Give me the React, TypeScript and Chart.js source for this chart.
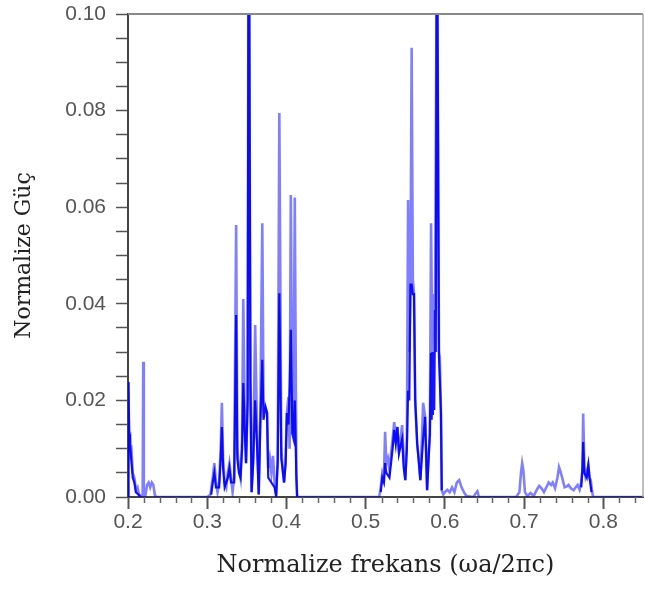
import React, { useEffect, useRef } from "react";
import { Chart, registerables } from "chart.js";

Chart.register(...registerables);

// Axis ranges and ticks
const X_MIN = 0.2;
const X_MAX = 0.85;
const Y_MIN = 0;
const Y_MAX = 0.1;
const X_MAJOR_STEP = 0.1;
const X_MINOR_STEP = 0.02;
const Y_MINOR_STEP = 0.005;
const Y_MAJOR_STEP = 0.02;

const X_TITLE = "Normalize frekans (ωa/2πc)";
const Y_TITLE = "Normalize Güç";

// Full (light, semi-transparent) spectrum trace
const lightFreq = [
  0.2, 0.2005, 0.2015, 0.2025, 0.2035, 0.2045, 0.206, 0.208, 0.21, 0.212, 0.214, 0.2165, 0.2185, 0.2192, 0.22,
  0.222, 0.224, 0.226, 0.228, 0.23, 0.232, 0.234, 0.236, 0.3,
  0.304, 0.307, 0.309, 0.311, 0.313, 0.315, 0.317, 0.3185, 0.32, 0.322, 0.324, 0.326, 0.328, 0.33, 0.332, 0.334,
  0.3365, 0.338, 0.34, 0.342, 0.344, 0.3455, 0.347, 0.349, 0.351, 0.352, 0.353, 0.3545, 0.356, 0.358, 0.3605,
  0.363, 0.365, 0.367, 0.3695, 0.371, 0.3735, 0.3755, 0.377, 0.379, 0.381, 0.383, 0.385, 0.387, 0.389, 0.391,
  0.3935, 0.395, 0.397, 0.399, 0.4005, 0.4025, 0.404, 0.4055, 0.4075, 0.409, 0.4105, 0.4125, 0.4135, 0.517,
  0.519, 0.521, 0.523, 0.5245, 0.526, 0.528, 0.53, 0.532, 0.534, 0.536, 0.538, 0.54, 0.542, 0.544, 0.546, 0.548,
  0.55, 0.552, 0.5535, 0.555, 0.5565, 0.558, 0.5595, 0.561, 0.5625, 0.565, 0.567, 0.569, 0.571, 0.5725, 0.575,
  0.5775, 0.579, 0.581, 0.5825, 0.584, 0.586, 0.5875, 0.5895, 0.5905, 0.5925, 0.5935, 0.595, 0.596, 0.598, 0.6,
  0.603, 0.606, 0.609, 0.612, 0.615, 0.618, 0.621, 0.624, 0.627, 0.636, 0.639, 0.641, 0.643, 0.69,
  0.694, 0.696, 0.6975, 0.699, 0.701, 0.704, 0.708, 0.712, 0.716, 0.719, 0.722, 0.725, 0.728, 0.731, 0.734,
  0.736, 0.739, 0.742, 0.744, 0.746, 0.748, 0.751, 0.754, 0.756, 0.759, 0.7625, 0.765, 0.7675, 0.77, 0.772,
  0.7735, 0.7745, 0.776, 0.7775, 0.779, 0.781, 0.7825, 0.784, 0.7855, 0.787, 0.85,
];
const lightPower = [
  0, 0.0238, 0.012, 0.0135, 0.009, 0.0095, 0.005, 0.004, 0.0015, 0.002, 0.0005, 0.0002, 0, 0.028, 0,
  0.0003, 0.0025, 0.003, 0.002, 0.003, 0.0025, 0.0003, 0, 0,
  0.0005, 0.004, 0.007, 0.003, 0.001, 0.003, 0.01, 0.0195, 0.008, 0.003, 0.002, 0.005, 0.007, 0.004, 0.001, 0.004,
  0.0563, 0.01, 0.006, 0.004, 0.012, 0.041, 0.02, 0.007, 0.02, 0.105, 0.105, 0.024, 0.001, 0.008, 0.0356,
  0.012, 0.0005, 0.017, 0.0567, 0.02, 0.0186, 0.0174, 0.006, 0.008, 0.005, 0.0085, 0.003, 0.0002, 0.0076, 0.0795,
  0.01, 0.006, 0.003, 0.008, 0.0174, 0.0207, 0.01, 0.0625, 0.013, 0.015, 0.062, 0.005, 0, 0,
  0.002, 0.005, 0.004, 0.0135, 0.007, 0.008, 0.0056, 0.009, 0.012, 0.0155, 0.012, 0.0145, 0.0097, 0.012, 0.0149, 0.008,
  0.0035, 0.012, 0.0615, 0.03, 0.044, 0.093, 0.045, 0.042, 0.02, 0.011, 0.008, 0.0035, 0.012, 0.0195, 0.0166,
  0.0014, 0.008, 0.013, 0.0567, 0.03, 0.042, 0.0387, 0.105, 0.105, 0.03, 0.029, 0.0174, 0.0014, 0.0005, 0.001,
  0.0015, 0.001, 0.002, 0.001, 0.003, 0.0035, 0.002, 0.001, 0.0002, 0, 0.0008, 0.0012, 0, 0,
  0.001, 0.005, 0.007, 0.0055, 0.001, 0.0002, 0.0008, 0.0002, 0.0015, 0.0023, 0.0018, 0.001, 0.002, 0.003, 0.0025,
  0.003, 0.0018, 0.004, 0.0062, 0.0052, 0.004, 0.002, 0.0022, 0.0025, 0.0018, 0.0014, 0.002, 0.0025, 0.0015, 0.003,
  0.0056, 0.0173, 0.006, 0.0042, 0.005, 0.0066, 0.004, 0.0035, 0.0015, 0, 0,
];

// Dense (dark) core of the spectrum, null = gap
const darkFreq = [
  0.2, 0.2005, 0.2015, 0.2025, 0.204, 0.206, 0.208, 0.21, 0.213, 0.216, 0.25,
  0.305, 0.307, 0.309, 0.311, 0.315, 0.317, 0.3185, 0.32, 0.322, 0.326, 0.328, 0.33, 0.334, 0.3365, 0.338, 0.34,
  0.342, 0.344, 0.3455, 0.347, 0.349, 0.351, 0.352, 0.353, 0.3545, 0.356, 0.358, 0.3605, 0.363, 0.365, 0.367,
  0.3695, 0.371, 0.3735, 0.3755, 0.377, 0.381, 0.385, 0.387, 0.389, 0.391, 0.3935, 0.395, 0.397, 0.399, 0.4005,
  0.4025, 0.404, 0.4055, 0.4075, 0.409, 0.4105, 0.4125, 0.4135, 0.45,
  0.519, 0.521, 0.523, 0.5245, 0.526, 0.53, 0.534, 0.536, 0.538, 0.54, 0.542, 0.546, 0.548, 0.55, 0.552, 0.5535,
  0.555, 0.5565, 0.558, 0.5595, 0.561, 0.5625, 0.565, 0.569, 0.5725, 0.575, 0.5775, 0.581, 0.5825, 0.5833, 0.5841,
  0.5849, 0.5857, 0.5865, 0.5875, 0.5885, 0.5895, 0.5905, 0.5925, 0.595, 0.596, 0.65,
  0.772, 0.7735, 0.7745, 0.776, 0.779, 0.781, 0.7825, 0.785,
];
const darkPower = [
  0, 0.0238, 0.013, 0.011, 0.008, 0.004, 0.003, 0.001, 0.0005, 0, null,
  0.0005, 0.003, 0.005, 0.002, 0.002, 0.008, 0.0145, 0.006, 0.002, 0.004, 0.006, 0.003, 0.003, 0.0377, 0.008, 0.005,
  0.004, 0.01, 0.0236, 0.015, 0.007, 0.02, 0.105, 0.105, 0.024, 0.001, 0.007, 0.02, 0.01, 0.0005, 0.015,
  0.0284, 0.016, 0.0186, 0.0174, 0.004, 0.003, 0.002, 0.0002, 0.0076, 0.0422, 0.008, 0.006, 0.003, 0.007, 0.0174,
  0.015, 0.0228, 0.0346, 0.013, 0.012, 0.02, 0.004, 0, null,
  0.001, 0.004, 0.003, 0.007, 0.005, 0.004, 0.01, 0.0139, 0.011, 0.0145, 0.009, 0.012, 0.006, 0.0035, 0.01, 0.022,
  0.02, 0.044, 0.044, 0.042, 0.042, 0.02, 0.011, 0.0035, 0.012, 0.0166, 0.0014, 0.013, 0.0298, 0.016, 0.03,
  0.017, 0.03, 0.018, 0.0387, 0.03, 0.105, 0.105, 0.029, 0.0174, 0.0014, null,
  0.002, 0.0056, 0.0114, 0.005, 0.004, 0.0066, 0.004, 0.001,
];

const isMultiple = (v: number, step: number) => Math.abs(v / step - Math.round(v / step)) < 1e-6;

const framePlugin = {
  id: "frame",
  afterDraw(chart: any) {
    const { ctx, chartArea, scales } = chart;
    const xs = scales.x;
    ctx.save();
    // minor x ticks
    ctx.strokeStyle = "#666";
    ctx.lineWidth = 1.5;
    for (let i = 0; ; i++) {
      const v = X_MIN + i * X_MINOR_STEP;
      if (v > X_MAX + 1e-9) break;
      if (isMultiple(v, X_MAJOR_STEP)) continue;
      const px = Math.round(xs.getPixelForValue(v)) + 0.5;
      ctx.beginPath();
      ctx.moveTo(px, chartArea.bottom);
      ctx.lineTo(px, chartArea.bottom + 6);
      ctx.stroke();
    }
    // top & right frame
    ctx.strokeStyle = "#888";
    ctx.lineWidth = 2;
    ctx.beginPath();
    ctx.moveTo(chartArea.left, chartArea.top);
    ctx.lineTo(chartArea.right, chartArea.top);
    ctx.stroke();
    ctx.strokeStyle = "#aaa";
    ctx.lineWidth = 1.5;
    ctx.beginPath();
    ctx.moveTo(chartArea.right, chartArea.top);
    ctx.lineTo(chartArea.right, chartArea.bottom);
    ctx.stroke();
    ctx.restore();
  },
};

export default function App() {
  const canvasRef = useRef<HTMLCanvasElement | null>(null);

  useEffect(() => {
    const canvas = canvasRef.current;
    if (!canvas) return;
    const lightData = lightFreq.map((x, i) => ({ x, y: lightPower[i] }));
    const darkData = darkFreq.map((x, i) => ({ x, y: darkPower[i] }));
    const chart = new Chart(canvas, {
      type: "line",
      data: {
        datasets: [
          {
            label: "core",
            data: darkData as any,
            borderColor: "rgba(0,0,255,0.92)",
            borderWidth: 2.2,
            pointRadius: 0,
            tension: 0,
            spanGaps: false,
            fill: false,
          },
          {
            label: "spectrum",
            data: lightData as any,
            borderColor: "rgba(0,0,255,0.5)",
            borderWidth: 2.6,
            pointRadius: 0,
            tension: 0,
            fill: false,
          },
        ],
      },
      options: {
        responsive: false,
        animation: false,
        devicePixelRatio: 1,
        layout: { padding: { top: 14, right: 2, left: 0, bottom: 0 } },
        plugins: { legend: { display: false }, tooltip: { enabled: false } },
        scales: {
          x: {
            type: "linear",
            min: X_MIN,
            max: X_MAX,
            afterFit: (s: any) => {
              s.height = 93;
              s.paddingLeft = 0;
              s.paddingRight = 0;
            },
            border: { display: true, color: "#444", width: 2 },
            grid: { drawOnChartArea: false, tickLength: 12, tickColor: "#555", tickWidth: 2 },
            ticks: {
              stepSize: X_MAJOR_STEP,
              includeBounds: false,
              autoSkip: false,
              maxRotation: 0,
              padding: 1,
              color: "#555",
              font: { family: "'Liberation Sans', Arial, sans-serif", size: 21 },
              callback: (v: any) => Number(v).toFixed(1),
            },
            title: {
              display: true,
              text: X_TITLE,
              color: "#222",
              font: { family: "'DejaVu Serif', serif", size: 24 },
              padding: { top: 0, bottom: 10 },
            },
          },
          y: {
            type: "linear",
            min: Y_MIN,
            max: Y_MAX,
            afterFit: (s: any) => {
              s.width = 128;
              s.paddingTop = 0;
              s.paddingBottom = 0;
            },
            border: { display: true, color: "#444", width: 2 },
            grid: { drawOnChartArea: false, tickLength: 12, tickColor: "#555", tickWidth: 1.5 },
            ticks: {
              stepSize: Y_MINOR_STEP,
              autoSkip: false,
              padding: 10,
              color: "#555",
              font: { family: "'Liberation Sans', Arial, sans-serif", size: 21 },
              callback: (v: any) => (isMultiple(Number(v), Y_MAJOR_STEP) ? Number(v).toFixed(2) : ""),
            },
            title: {
              display: true,
              text: Y_TITLE,
              color: "#222",
              font: { family: "'DejaVu Serif', serif", size: 22 },
              padding: { top: 11, bottom: 0 },
            },
          },
        },
      },
      plugins: [framePlugin],
    });
    return () => chart.destroy();
  }, []);

  return (
    <div style={{ position: "absolute", left: 0, top: 0, width: 645, height: 590, background: "#fff" }}>
      <canvas ref={canvasRef} width={645} height={590} />
    </div>
  );
}
